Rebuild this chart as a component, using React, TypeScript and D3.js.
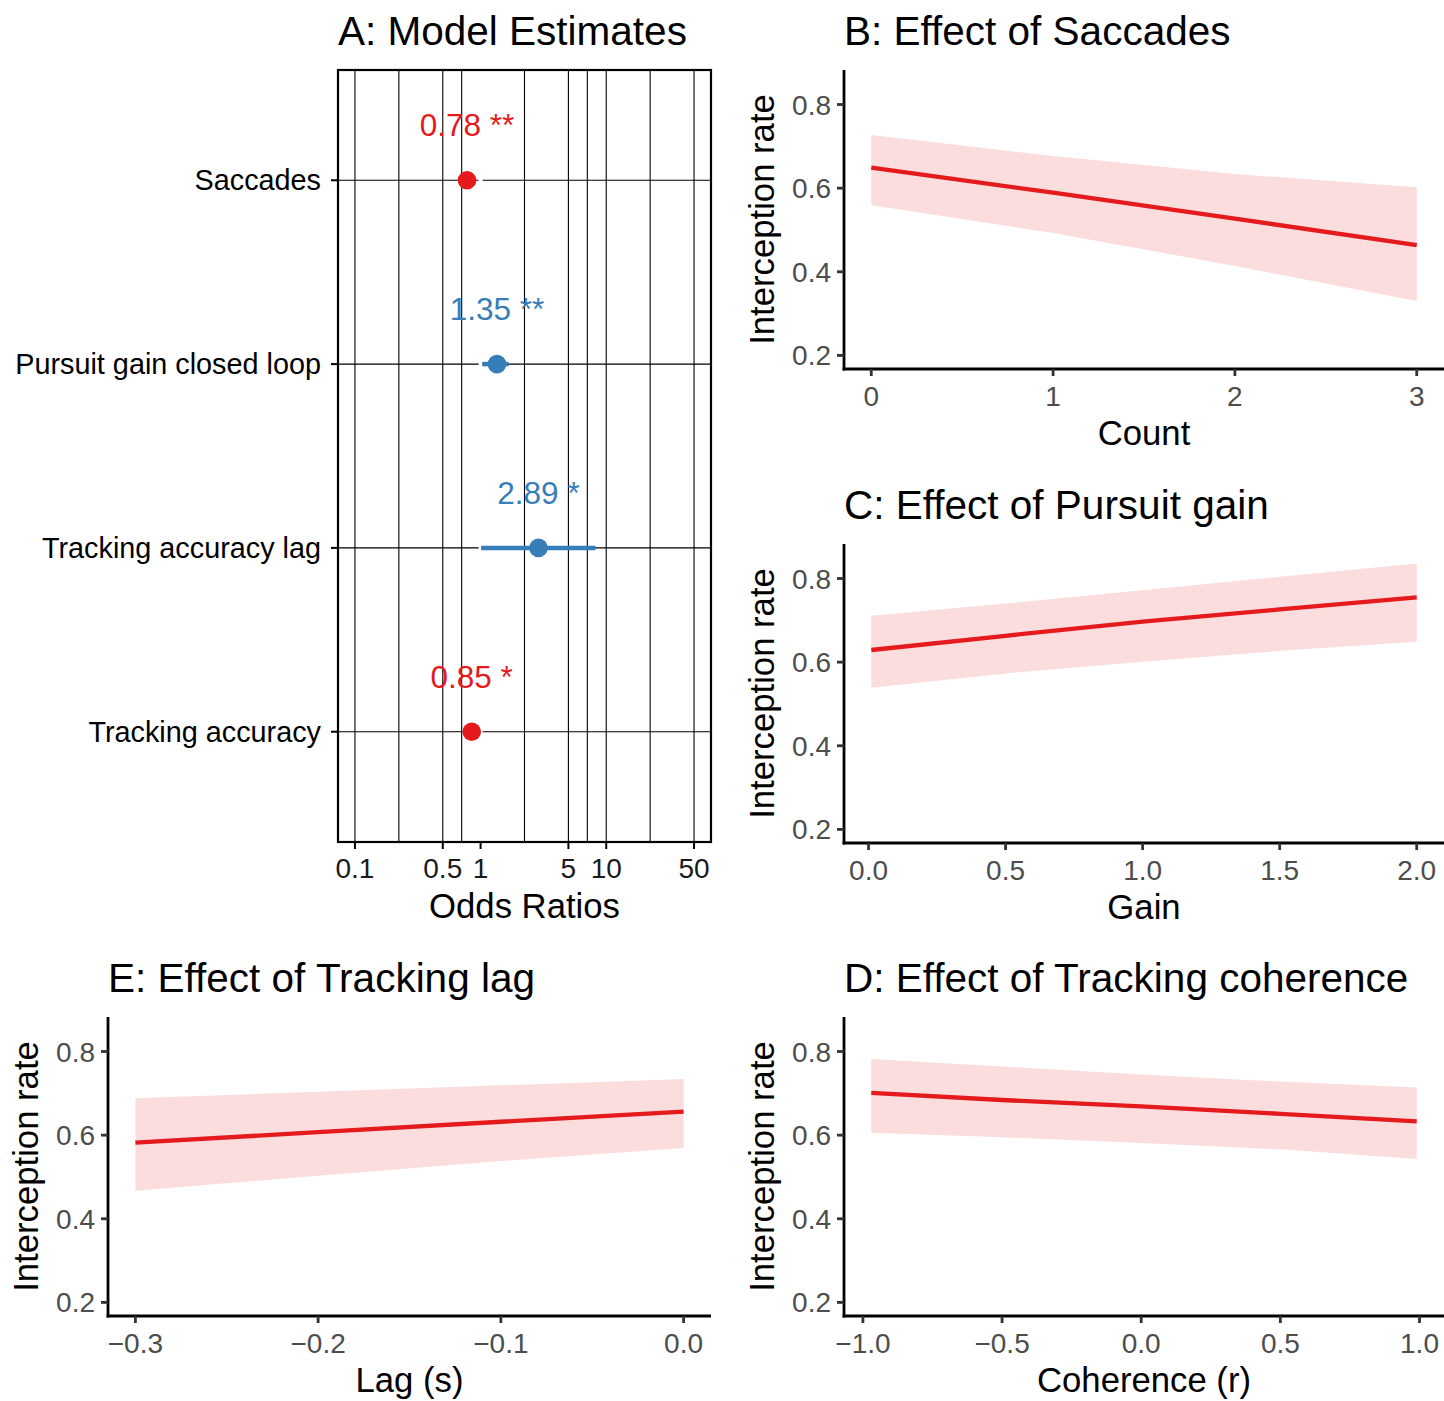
import React from "react";
import * as d3 from "d3";

// Panel A: model estimates (odds ratios)
const modelTerms = ["Saccades", "Pursuit gain closed loop", "Tracking accuracy lag", "Tracking accuracy"];
const oddsRatios = [0.78, 1.35, 2.89, 0.85];
const ciLow = [0.7, 1.03, 1.01, 0.76];
const ciHigh = [0.87, 1.67, 8.2, 0.95];
const stars = ["**", "**", "*", "*"];
const orBreaks = [0.1, 0.5, 1, 5, 10, 50];

// Panel B: saccades
const saccCount = [0, 1, 2, 3];
const saccFit = [0.649, 0.589, 0.527, 0.464];
const saccLow = [0.559, 0.493, 0.414, 0.33];
const saccHigh = [0.727, 0.677, 0.634, 0.602];

// Panel C: pursuit gain
const gain = [0.01, 0.5, 1, 1.5, 2];
const gainFit = [0.629, 0.663, 0.697, 0.726, 0.755];
const gainLow = [0.539, 0.573, 0.601, 0.627, 0.649];
const gainHigh = [0.711, 0.74, 0.772, 0.804, 0.836];

// Panel D: tracking coherence
const coherence = [-0.97, -0.5, 0, 0.5, 0.99];
const cohFit = [0.701, 0.684, 0.669, 0.651, 0.633];
const cohLow = [0.606, 0.595, 0.581, 0.566, 0.543];
const cohHigh = [0.782, 0.764, 0.745, 0.728, 0.714];

// Panel E: tracking lag
const lag = [-0.3, -0.2, -0.1, 0];
const lagFit = [0.582, 0.607, 0.632, 0.656];
const lagLow = [0.467, 0.503, 0.538, 0.569];
const lagHigh = [0.688, 0.704, 0.719, 0.734];

const rateTicks = [0.2, 0.4, 0.6, 0.8];
const rateLimits = [0.2, 0.85];

const FONT = "'Liberation Sans', Arial, Helvetica, sans-serif";
const RED = "#E41A1C";
const BLUE = "#377EB8";

const expand = (lo, hi, f = 0.05) => {
  const r = hi - lo;
  return [lo - r * f, hi + r * f];
};

const fmt1 = (v) => (v < 0 ? "\u2212" : "") + Math.abs(v).toFixed(1);

function EffectPanel({ box, title, xLabel, xs, fit, low, high, xTicks, tickFmt }) {
  const x = d3.scaleLinear().domain(expand(d3.min(xs), d3.max(xs))).range([box.left, box.right]);
  const y = d3.scaleLinear().domain(expand(rateLimits[0], rateLimits[1])).range([box.bottom, box.top]);
  const rows = xs.map((v, i) => ({ x: v, fit: fit[i], lo: low[i], hi: high[i] }));
  const area = d3.area().x((d) => x(d.x)).y0((d) => y(d.lo)).y1((d) => y(d.hi));
  const line = d3.line().x((d) => x(d.x)).y((d) => y(d.fit));
  const cy = (box.top + box.bottom) / 2;
  return (
    <g>
      <text x={box.left} y={box.top - 25} fontSize={40.5} fill="#000">{title}</text>
      <path d={area(rows)} fill={RED} fillOpacity={0.15} />
      <path d={line(rows)} fill="none" stroke={RED} strokeWidth={4.3} />
      <line x1={box.left} x2={box.left} y1={box.top} y2={box.bottom + 1.4} stroke="#000" strokeWidth={2.8} />
      <line x1={box.left - 1.4} x2={box.right} y1={box.bottom} y2={box.bottom} stroke="#000" strokeWidth={2.8} />
      {rateTicks.map((t) => (
        <g key={"y" + t}>
          <line x1={box.left - 7} x2={box.left} y1={y(t)} y2={y(t)} stroke="#333" strokeWidth={2.8} />
          <text x={box.left - 13} y={y(t) + 10} textAnchor="end" fontSize={28} fill="#4D4D4D">{t.toFixed(1)}</text>
        </g>
      ))}
      {xTicks.map((t) => (
        <g key={"x" + t}>
          <line x1={x(t)} x2={x(t)} y1={box.bottom} y2={box.bottom + 7} stroke="#333" strokeWidth={2.8} />
          <text x={x(t)} y={box.bottom + 37} textAnchor="middle" fontSize={28} fill="#4D4D4D">{tickFmt(t)}</text>
        </g>
      ))}
      <text x={(box.left + box.right) / 2} y={box.bottom + 76} textAnchor="middle" fontSize={34.7} fill="#000">{xLabel}</text>
      <text transform={`translate(${box.left - 70},${cy}) rotate(-90)`} textAnchor="middle" fontSize={34.7} fill="#000">Interception rate</text>
    </g>
  );
}

function ForestPanel() {
  const box = { left: 338, right: 711, top: 70, bottom: 842 };
  const lo = Math.log10(orBreaks[0]);
  const hi = Math.log10(orBreaks[orBreaks.length - 1]);
  const [dl, dh] = expand(lo, hi);
  const x = d3.scaleLog().domain([10 ** dl, 10 ** dh]).range([box.left, box.right]);
  const y = d3.scalePoint().domain(modelTerms).range([box.top, box.bottom]).padding(0.6);
  const step = y.step();
  const minor = orBreaks.slice(1).map((b, i) => Math.sqrt(b * orBreaks[i]));
  const color = (v) => (v < 1 ? RED : BLUE);
  return (
    <g>
      <text x={box.left} y={box.top - 25} fontSize={40.5} fill="#000">A: Model Estimates</text>
      {[...minor, ...orBreaks].map((b) => (
        <line key={"g" + b} x1={x(b)} x2={x(b)} y1={box.top} y2={box.bottom} stroke="#000" strokeWidth={1.1} />
      ))}
      {modelTerms.map((t) => (
        <line key={"h" + t} x1={box.left} x2={box.right} y1={y(t)} y2={y(t)} stroke="#000" strokeWidth={1.1} />
      ))}
      <line x1={x(1)} x2={x(1)} y1={box.top + 1} y2={box.bottom - 1} stroke="#fff" strokeWidth={4} />
      {modelTerms.map((t, i) => (
        <g key={"m" + t}>
          <line x1={x(ciLow[i])} x2={x(ciHigh[i])} y1={y(t)} y2={y(t)} stroke={color(oddsRatios[i])} strokeWidth={4.5} />
          <circle cx={x(oddsRatios[i])} cy={y(t)} r={9.3} fill={color(oddsRatios[i])} />
          <text x={x(oddsRatios[i])} y={y(t) - step * 0.3 + 11} textAnchor="middle" fontSize={31.5} fill={color(oddsRatios[i])}>
            {oddsRatios[i].toFixed(2) + " " + stars[i]}
          </text>
        </g>
      ))}
      <rect x={box.left} y={box.top} width={box.right - box.left} height={box.bottom - box.top} fill="none" stroke="#000" strokeWidth={2.2} />
      {modelTerms.map((t) => (
        <g key={"yl" + t}>
          <line x1={box.left - 7} x2={box.left} y1={y(t)} y2={y(t)} stroke="#000" strokeWidth={2} />
          <text x={box.left - 17} y={y(t) + 10} textAnchor="end" fontSize={28.8} fill="#000">{t}</text>
        </g>
      ))}
      {orBreaks.map((b) => (
        <g key={"xl" + b}>
          <line x1={x(b)} x2={x(b)} y1={box.bottom} y2={box.bottom + 7} stroke="#000" strokeWidth={2} />
          <text x={x(b)} y={box.bottom + 36} textAnchor="middle" fontSize={28} fill="#1A1A1A">{String(b)}</text>
        </g>
      ))}
      <text x={(box.left + box.right) / 2} y={box.bottom + 76} textAnchor="middle" fontSize={34.7} fill="#000">Odds Ratios</text>
    </g>
  );
}

export default function App() {
  return (
    <svg
      width={1444}
      height={1401}
      style={{ position: "absolute", left: 0, top: 0, background: "#fff" }}
      fontFamily={FONT}
    >
      <rect width={1444} height={1401} fill="#fff" />
      <ForestPanel />
      <EffectPanel
        box={{ left: 844, right: 1444, top: 70, bottom: 369 }}
        title="B: Effect of Saccades"
        xLabel="Count"
        xs={saccCount} fit={saccFit} low={saccLow} high={saccHigh}
        xTicks={[0, 1, 2, 3]}
        tickFmt={(t) => String(t)}
      />
      <EffectPanel
        box={{ left: 844, right: 1444, top: 544, bottom: 843 }}
        title="C: Effect of Pursuit gain"
        xLabel="Gain"
        xs={gain} fit={gainFit} low={gainLow} high={gainHigh}
        xTicks={[0, 0.5, 1, 1.5, 2]}
        tickFmt={fmt1}
      />
      <EffectPanel
        box={{ left: 108, right: 711, top: 1017, bottom: 1316 }}
        title="E: Effect of Tracking lag"
        xLabel="Lag (s)"
        xs={lag} fit={lagFit} low={lagLow} high={lagHigh}
        xTicks={[-0.3, -0.2, -0.1, 0]}
        tickFmt={fmt1}
      />
      <EffectPanel
        box={{ left: 844, right: 1444, top: 1017, bottom: 1316 }}
        title="D: Effect of Tracking coherence"
        xLabel="Coherence (r)"
        xs={coherence} fit={cohFit} low={cohLow} high={cohHigh}
        xTicks={[-1, -0.5, 0, 0.5, 1]}
        tickFmt={fmt1}
      />
    </svg>
  );
}
